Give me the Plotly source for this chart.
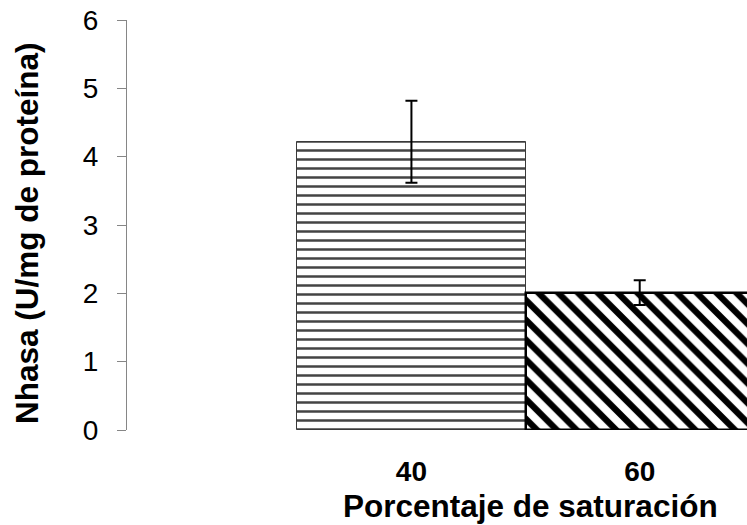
import plotly.graph_objects as go

categories = ["40", "60"]
values = [4.22, 2.01]
errors = [0.60, 0.18]
y_ticks = [0, 1, 2, 3, 4, 5, 6]
x_title = "Porcentaje de saturación"
y_title = "Nhasa (U/mg de proteína)"

font_family = "Arial, Liberation Sans, sans-serif"

fig = go.Figure()

fig.add_trace(go.Bar(
    x=[categories[0]], y=[values[0]],
    error_y=dict(type="data", array=[errors[0]], color="black", thickness=2, width=6),
    marker=dict(color="white",
                line=dict(color="#3a3a3a", width=1),
                pattern=dict(shape="-", fgcolor="#444444", bgcolor="white",
                             fgopacity=1, size=9, solidity=0.28)),
    showlegend=False,
))
fig.add_trace(go.Bar(
    x=[categories[1]], y=[values[1]],
    error_y=dict(type="data", array=[errors[1]], color="black", thickness=2, width=6),
    marker=dict(color="white",
                line=dict(color="black", width=2.5),
                pattern=dict(shape="\\", fgcolor="black", bgcolor="white",
                             fgopacity=1, size=14, solidity=0.45)),
    showlegend=False,
))

fig.update_layout(
    width=747, height=525,
    margin=dict(l=127, r=0, t=20, b=95),
    paper_bgcolor="white", plot_bgcolor="white",
    barmode="overlay", bargap=0,
    font=dict(family=font_family, color="black"),
    xaxis=dict(
        type="category",
        categoryorder="array", categoryarray=categories,
        range=[-1.246, 1.47],
        showline=False, showgrid=False, zeroline=False, ticks="",
        tickfont=dict(size=28, family=font_family, weight="bold"),
        ticklabelstandoff=22,
    ),
    yaxis=dict(
        range=[0, 6], tickvals=y_ticks,
        showline=True, linecolor="#868686", linewidth=1,
        ticks="outside", ticklen=9, tickcolor="#868686", tickwidth=1,
        showgrid=False, zeroline=False,
        tickfont=dict(size=28),
        ticklabelstandoff=13,
    ),
    annotations=[
        dict(text="<b>" + x_title + "</b>", xref="paper", yref="paper",
             x=(530 - 127) / 620, y=(430 - 506) / 410, xanchor="center", yanchor="middle",
             showarrow=False, font=dict(size=31.5, family=font_family, color="black")),
        dict(text="<b>" + y_title + "</b>", xref="paper", yref="paper",
             x=(27 - 127) / 620, y=(430 - 233) / 410, xanchor="center", yanchor="middle",
             textangle=-90, showarrow=False,
             font=dict(size=31.5, family=font_family, color="black")),
    ],
)

fig.write_html("out.html")
